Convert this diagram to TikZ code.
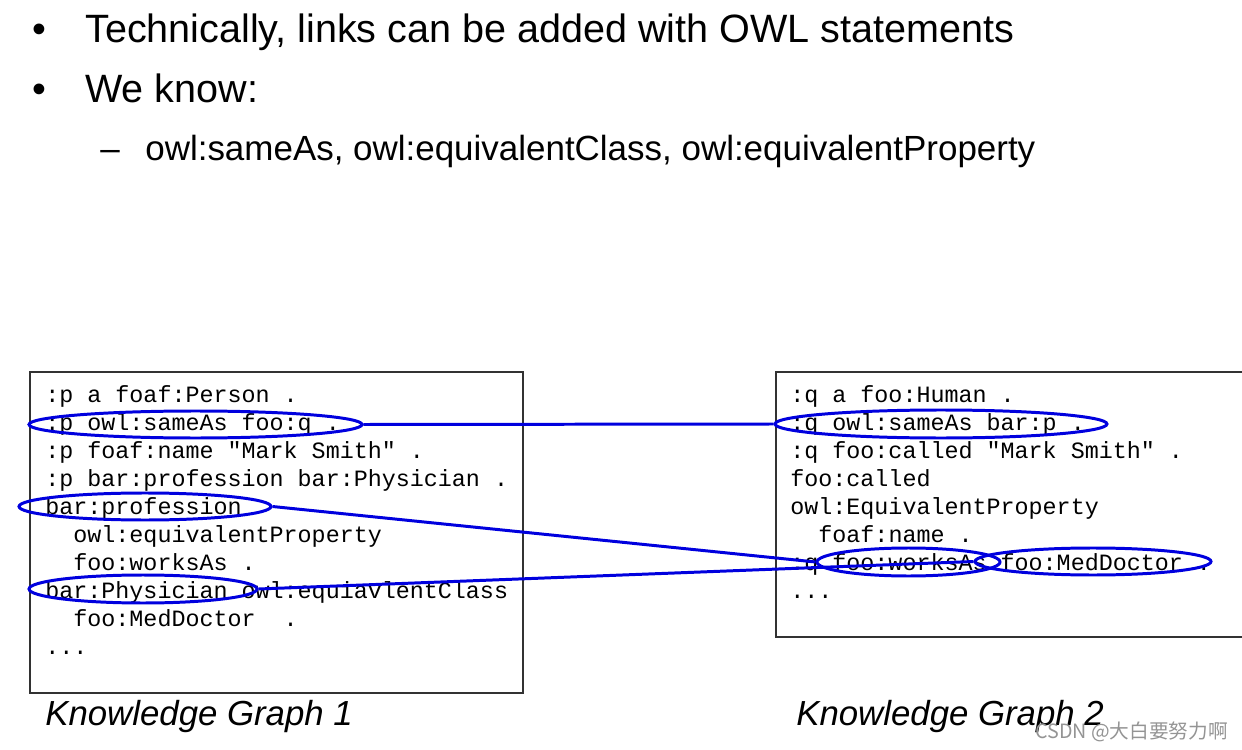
\documentclass[tikz,border=0pt]{standalone}
\usepackage{fontspec}
\setmainfont{Liberation Sans}
\setmonofont{Liberation Mono}
\newfontfamily\cjkfont{Noto Sans CJK SC}
\usepackage{tikz}
\usetikzlibrary{shapes.geometric,positioning}
\definecolor{linkblue}{RGB}{0,0,222}
\definecolor{boxgray}{RGB}{50,50,50}
\def\pxu{0.02cm}
\newcommand\moredots{...}
\tikzset{
bullettext/.style = {anchor=base west, inner sep=0pt, font=\fontsize{22.5}{27}\selectfont},
subtext/.style = {anchor=base west, inner sep=0pt, font=\fontsize{19.9}{24}\selectfont},
codeline/.style = {anchor=base west, inner sep=0pt, font=\ttfamily\fontsize{13.3}{16}\selectfont},% one line of turtle
kgbox/.style = {draw=boxgray, line width=0.6pt},
hl/.style = {ellipse, draw=linkblue, line width=1.7pt, inner sep=0pt},% highlighted term
link/.style = {draw=linkblue, line width=1.7pt},
kgcaption/.style = {anchor=base west, inner sep=0pt, font=\itshape\fontsize{19.8}{24}\selectfont},
watermark/.style = {anchor=base west, inner sep=0pt, text=black!42, font=\cjkfont\fontsize{11.2}{13}\selectfont}
}
\begin{document}
\begin{tikzpicture}[x=\pxu, y=-\pxu]
  \useasboundingbox (0,0) rectangle (1242,750);
  % bullets
  \node [bullettext] (dot1) at (32,43) {•};
  \node [bullettext] (line1) at (85,43) {Technically, links can be added with OWL statements};
  \node [bullettext] (dot2) at (32,103) {•};
  \node [bullettext] (line2) at (85,103) {We know:};
  \node [subtext] (dash) at (100,161) {–};
  \node [subtext] (line3) at (145,161) {owl:sameAs, owl:equivalentClass, owl:equivalentProperty};
  % knowledge graph 1
  \draw [kgbox] (30,372) rectangle (523,693);
  \foreach \txt [count=\i] in {
    {:p a foaf:Person .},
    {:p owl:sameAs foo:q .},
    {:p foaf:name "Mark Smith" .},
    {:p bar:profession bar:Physician .},
    {bar:profession},
    {\phantom{xx}owl:equivalentProperty},
    {\phantom{xx}foo:worksAs .},
    {bar:Physician owl:equiavlentClass},
    {\phantom{xx}foo:MedDoctor\phantom{x} .},
    {\moredots}}
    \node [codeline] (kgA-\i) at (45,{402+28*(\i-1)}) {\txt};
  % knowledge graph 2
  \draw [kgbox] (1243,372) -- (776,372) -- (776,637) -- (1243,637);
  \foreach \txt [count=\i] in {
    {:q a foo:Human .},
    {:q owl:sameAs bar:p .},
    {:q foo:called "Mark Smith" .},
    {foo:called},
    {owl:EquivalentProperty},
    {\phantom{xx}foaf:name .},
    {:q foo:worksAs foo:MedDoctor .},
    {\moredots}}
    \node [codeline] (kgB-\i) at (790,{402+28*(\i-1)}) {\txt};
  % highlighted terms
  \node [hl, minimum width=333*\pxu, minimum height=27*\pxu] (sameL) at (195.5,424.5) {};
  \node [hl, minimum width=252*\pxu, minimum height=27*\pxu] (profL) at (145,506.5) {};
  \node [hl, minimum width=228*\pxu, minimum height=28*\pxu] (physL) at (143,589) {};
  \node [hl, minimum width=332*\pxu, minimum height=28*\pxu] (sameR) at (941,424) {};
  \node [hl, minimum width=183*\pxu, minimum height=28*\pxu] (worksR) at (908.5,562) {};
  \node [hl, minimum width=236*\pxu, minimum height=27*\pxu] (medR) at (1093,561.5) {};
  \draw [link] (sameL.east) -- (sameR.west);
  \draw [link] (profL.east) -- (worksR.west);
  \draw [link] (physL.east) -- (medR.west);
  % captions
  \node [kgcaption] (capA) at (45,725) {Knowledge Graph 1};
  \node [kgcaption] (capB) at (796,725) {Knowledge Graph 2};
  \node [watermark] (mark) at (1035,738) {CSDN @大白要努力啊};
\end{tikzpicture}
\end{document}
